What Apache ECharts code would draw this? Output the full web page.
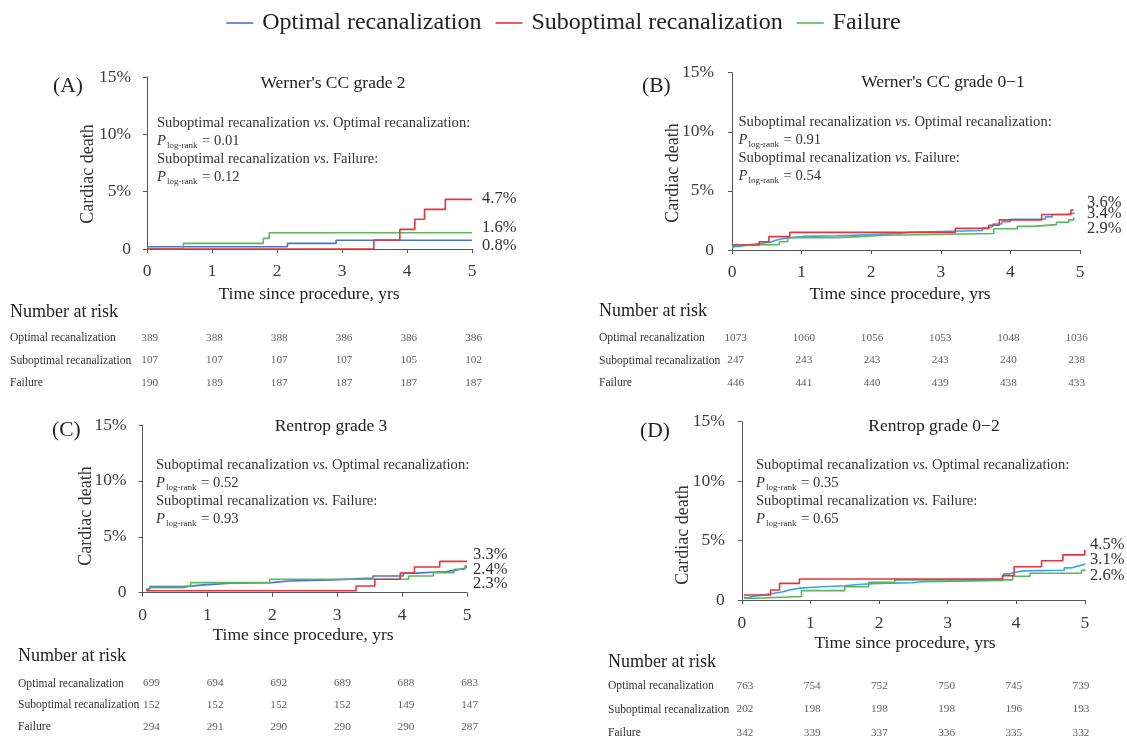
<!DOCTYPE html>
<html><head><meta charset="utf-8">
<script src="https://cdn.jsdelivr.net/npm/echarts@6/dist/echarts.min.js"></script>
<style>html,body{margin:0;padding:0;background:#fff}#c{width:1127px;height:739px}</style>
</head><body><div id="c"></div>
<script>
// ---------- DATA ----------
const groups = ['Optimal recanalization', 'Suboptimal recanalization', 'Failure'];
const riskTimes = [0, 1, 2, 3, 4, 5];

// Panel A: Werner's CC grade 2  (cumulative cardiac death, %)
const aOptimal    = [[0,0.2],[2.16,0.49],[2.91,0.76],[5,0.76]];
const aSuboptimal = [[0,0],[3.49,0.78],[3.89,1.71],[4.12,2.59],[4.27,3.46],[4.59,4.33],[5,4.33]];
const aFailure    = [[0,0],[0.56,0.49],[1.79,0.93],[1.88,1.42],[5,1.42]];
const aEndLabels  = ['0.8%', '4.7%', '1.6%'];
const aP          = ['0.01', '0.12'];
const aRiskOptimal = [389,388,388,386,386,386];
const aRiskSuboptimal = [107,107,107,107,105,102];
const aRiskFailure = [190,189,187,187,187,187];

// Panel B: Werner's CC grade 0-1
const bOptimal    = [[0,0.3],[0.1,0.45],[0.25,0.55],[0.4,0.65],[0.55,0.8],[0.62,0.95],[0.72,1.05],[0.85,1.15],[1.05,1.2],[1.5,1.3],[2.0,1.4],[2.4,1.5],[2.55,1.65],[3.6,1.85],[3.68,2.0],[3.75,2.2],[3.88,2.4],[4.0,2.6],[4.5,2.8],[4.6,3.0],[4.8,3.1],[4.91,3.2]];
const bSuboptimal = [[0,0.42],[0.39,0.7],[0.53,1.13],[0.83,1.49],[3.21,1.83],[3.69,2.1],[3.84,2.55],[4.45,3.0],[4.87,3.38],[4.91,3.38]];
const bFailure    = [[0,0.22],[0.03,0.45],[0.68,0.7],[0.8,1.05],[1.5,1.15],[1.9,1.25],[2.2,1.4],[3.76,1.8],[4.1,2.0],[4.33,2.15],[4.66,2.35],[4.84,2.55],[4.91,2.75]];
const bEndLabels  = ['3.4%', '3.6%', '2.9%'];
const bP          = ['0.91', '0.54'];
const bRiskOptimal = [1073,1060,1056,1053,1048,1036];
const bRiskSuboptimal = [247,243,243,243,240,238];
const bRiskFailure = [446,441,440,439,438,433];

// Panel C: Rentrop grade 3
const cOptimal    = [[0.05,0.3],[0.11,0.54],[0.63,0.7],[0.95,0.85],[1.36,0.9],[1.99,1.05],[2.25,1.15],[2.93,1.3],[3.55,1.5],[4.02,1.75],[4.23,1.9],[4.69,2.0],[4.8,2.15],[4.95,2.3],[5,2.3]];
const cSuboptimal = [[0.06,0.18],[3.29,0.6],[3.58,1.2],[3.97,1.75],[4.19,2.3],[4.58,2.8],[5,2.8]];
const cFailure    = [[0.06,0.2],[0.1,0.45],[0.63,0.6],[0.74,0.9],[1.96,1.2],[4.1,1.5],[4.48,1.8],[4.8,2.1],[4.97,2.4],[5,2.4]];
const cEndLabels  = ['2.3%', '3.3%', '2.4%'];
const cP          = ['0.52', '0.93'];
const cRiskOptimal = [699,694,692,689,688,683];
const cRiskSuboptimal = [152,152,152,152,149,147];
const cRiskFailure = [294,291,290,290,290,287];

// Panel D: Rentrop grade 0-2
const dOptimal    = [[0.03,0.2],[0.1,0.35],[0.2,0.45],[0.35,0.55],[0.45,0.7],[0.6,0.85],[0.7,1.0],[0.85,1.1],[1.1,1.2],[1.5,1.3],[1.7,1.4],[2.0,1.45],[2.5,1.55],[2.65,1.65],[3.8,1.9],[3.82,2.2],[3.9,2.35],[4.0,2.45],[4.1,2.5],[4.7,2.7],[4.8,2.85],[4.9,3.0],[5.0,3.1]];
const dSuboptimal = [[0.03,0.42],[0.42,0.84],[0.55,1.4],[0.84,1.77],[3.8,2.05],[3.97,2.8],[4.37,3.3],[4.68,3.8],[5.0,4.2]];
const dFailure    = [[0.03,0.15],[0.2,0.3],[0.87,0.79],[1.5,1.12],[1.85,1.49],[2.23,1.69],[3.95,2.0],[4.2,2.25],[4.95,2.5],[5.0,2.6]];
const dEndLabels  = ['3.1%', '4.5%', '2.6%'];
const dP          = ['0.35', '0.65'];
const dRiskOptimal = [763,754,752,750,745,739];
const dRiskSuboptimal = [202,198,198,198,196,193];
const dRiskFailure = [342,339,337,336,335,332];

const yTickValues = [0, 5, 10, 15];

// ---------- STYLE / LAYOUT ----------
const FONT = 'Liberation Serif';
const TXT = '#333';
const TICK = '#3c3c3c';
const RED = '#e5343d', GREEN = '#5cb55c', BLUE_DARK = '#4676c6', BLUE_LIGHT = '#3aa3e3';

const panels = [
  { letter:'(A)', title:"Werner's CC grade 2", curves:[aOptimal,aSuboptimal,aFailure], ends:aEndLabels, p:aP,
    risk:[aRiskOptimal,aRiskSuboptimal,aRiskFailure], blue:BLUE_DARK,
    grid:{left:147,top:77,width:325,height:172}, yOff:6, xOff:3.5,
    letterPos:[53,86], yTitle:[88,174], titlePos:[333,83], annot:[157,114.5], xName:[309,294], nar:[10,312],
    riskGrid:{left:149.7,width:323.9,top:338,height:45}, rowX:10, endX:482, endY:[245.7,198.3,227.7] },
  { letter:'(B)', title:"Werner's CC grade 0\u22121", curves:[bOptimal,bSuboptimal,bFailure], ends:bEndLabels, p:bP,
    risk:[bRiskOptimal,bRiskSuboptimal,bRiskFailure], blue:BLUE_LIGHT,
    grid:{left:732,top:72.7,width:348,height:177.3}, yOff:8, xOff:3,
    letterPos:[642,86.7], yTitle:[673,173], titlePos:[943,82.7], annot:[738.5,113], xName:[900,294], nar:[599,311.7],
    riskGrid:{left:735.7,width:340.9,top:338,height:45}, rowX:599, endX:1087, endY:[214,202.7,228.3] },
  { letter:'(C)', title:"Rentrop grade 3", curves:[cOptimal,cSuboptimal,cFailure], ends:cEndLabels, p:cP,
    risk:[cRiskOptimal,cRiskSuboptimal,cRiskFailure], blue:BLUE_DARK,
    grid:{left:142.6,top:425,width:324.4,height:167.7}, yOff:6, xOff:4,
    letterPos:[52,430], yTitle:[86,516], titlePos:[331,426], annot:[156,456.3], xName:[303,635], nar:[18,656],
    riskGrid:{left:151.5,width:318.1,top:683.5,height:43.5}, rowX:18, endX:473, endY:[583.3,555,570] },
  { letter:'(D)', title:"Rentrop grade 0\u22122", curves:[dOptimal,dSuboptimal,dFailure], ends:dEndLabels, p:dP,
    risk:[dRiskOptimal,dRiskSuboptimal,dRiskFailure], blue:BLUE_LIGHT,
    grid:{left:741.8,top:421.7,width:343,height:178.3}, yOff:7, xOff:4,
    letterPos:[640,431], yTitle:[683,535], titlePos:[934,426], annot:[756,456.3], xName:[905,643], nar:[608,662.7],
    riskGrid:{left:745,width:336,top:686,height:49}, rowX:608, endX:1090, endY:[560,544.3,575.7] }
];

const grids = [], xAxes = [], yAxes = [], series = [], graphics = [];

panels.forEach((pn, i) => {
  const g = pn.grid, rg = pn.riskGrid;
  const colors = [pn.blue, RED, GREEN];
  grids.push({ left:g.left, top:g.top, width:g.width, height:g.height, containLabel:false });
  grids.push({ left:rg.left, top:rg.top, width:rg.width, height:rg.height, containLabel:false });
  const pi = 2*i, ri = 2*i+1;
  xAxes.push({ type:'value', gridIndex:pi, min:0, max:5, interval:1, offset:pn.xOff,
    axisLine:{show:true, lineStyle:{color:'#555', width:1}},
    axisTick:{show:true, length:4, lineStyle:{color:'#555'}},
    axisLabel:{fontFamily:FONT, fontSize:17.5, color:TICK, margin:10},
    splitLine:{show:false} });
  xAxes.push({ type:'value', gridIndex:ri, min:0, max:5, show:false });
  yAxes.push({ type:'value', gridIndex:pi, min:yTickValues[0], max:yTickValues[yTickValues.length-1], interval:5, offset:pn.yOff,
    axisLine:{show:true, lineStyle:{color:'#555', width:1}},
    axisTick:{show:true, length:4, lineStyle:{color:'#555'}},
    axisLabel:{fontFamily:FONT, fontSize:17.5, color:TICK, margin:10, formatter:v => v === 0 ? '0' : v + '%'},
    splitLine:{show:false} });
  yAxes.push({ type:'value', gridIndex:ri, inverse:true, min:0, max:groups.length-1, interval:1,
    axisLine:{show:false}, axisTick:{show:false}, splitLine:{show:false},
    axisLabel:{fontFamily:FONT, fontSize:11.6, color:TXT, align:'left', margin:rg.left - pn.rowX,
      formatter:v => groups[v] || ''} });

  pn.curves.forEach((cv, k) => {
    const last = cv[cv.length-1];
    const endPx = g.left + g.width * last[0] / 5;
    const endPy = g.top + g.height * (1 - last[1] / 15);
    series.push({ name:groups[k], type:'line', step:'end', xAxisIndex:pi, yAxisIndex:pi,
      data:cv, showSymbol:false, symbol:'none', z: k===1 ? 3 : 2,
      lineStyle:{color:colors[k], width:1.6}, itemStyle:{color:colors[k]},
      emphasis:{disabled:true}, animation:false,
      endLabel:{show:true, formatter:() => pn.ends[k], distance:0,
        offset:[pn.endX - endPx, pn.endY[k] - endPy],
        fontFamily:FONT, fontSize:16.5, color:TXT} });
  });
  pn.risk.forEach((arr, k) => {
    series.push({ name:'risk'+i+'_'+k, type:'scatter', xAxisIndex:ri, yAxisIndex:ri,
      data:riskTimes.map((t, j) => [t, k, arr[j]]), symbolSize:1, itemStyle:{color:'rgba(0,0,0,0)'},
      label:{show:true, position:'inside', formatter:p => p.value[2], fontFamily:FONT, fontSize:11.2, color:TXT},
      emphasis:{disabled:true}, animation:false, silent:true });
  });

  graphics.push({ type:'text', x:pn.letterPos[0], y:pn.letterPos[1],
    style:{text:pn.letter, font:'21.5px "Liberation Serif"', fill:'#222', textVerticalAlign:'middle', textAlign:'left'} });
  graphics.push({ type:'text', x:pn.yTitle[0], y:pn.yTitle[1], rotation:Math.PI/2,
    style:{text:'Cardiac death', font:'18px "Liberation Serif"', fill:TXT, textAlign:'center', textVerticalAlign:'middle'} });
  graphics.push({ type:'text', x:pn.titlePos[0], y:pn.titlePos[1],
    style:{text:pn.title, font:'17.5px "Liberation Serif"', fill:'#222', textAlign:'center', textVerticalAlign:'middle'} });
  graphics.push({ type:'text', x:pn.xName[0], y:pn.xName[1],
    style:{text:'Time since procedure, yrs', font:'17.5px "Liberation Serif"', fill:'#222', textAlign:'center', textVerticalAlign:'middle'} });
  graphics.push({ type:'text', x:pn.nar[0], y:pn.nar[1],
    style:{text:'Number at risk', font:'18px "Liberation Serif"', fill:'#222', textAlign:'left', textVerticalAlign:'middle'} });
  graphics.push({ type:'text', x:pn.annot[0], y:pn.annot[1],
    style:{
      text:'Suboptimal recanalization {i|vs}. Optimal recanalization:\n{i|P}{s|log-rank} = ' + pn.p[0] +
           '\nSuboptimal recanalization {i|vs}. Failure:\n{i|P}{s|log-rank} = ' + pn.p[1],
      fontFamily:FONT, fontSize:14.6, lineHeight:18, fill:TXT, textAlign:'left', textVerticalAlign:'top',
      rich:{
        i:{fontFamily:FONT, fontSize:14.6, fontStyle:'italic', lineHeight:18},
        s:{fontFamily:FONT, fontSize:9, lineHeight:9, padding:[8,1,0,1], verticalAlign:'bottom'}
      } } });
});

const chart = echarts.init(document.getElementById('c'), null, {renderer:'canvas'});
chart.setOption({
  backgroundColor:'#fff',
  animation:false,
  textStyle:{fontFamily:FONT},
  legend:{ data:groups, top:6, left:'center', icon:'rect', itemWidth:27, itemHeight:1.6, itemGap:14,
    textStyle:{fontFamily:FONT, fontSize:24, color:'#222', padding:[0,0,0,4]}, selectedMode:false },
  grid:grids, xAxis:xAxes, yAxis:yAxes, series:series, graphic:graphics
});
</script></body></html>
